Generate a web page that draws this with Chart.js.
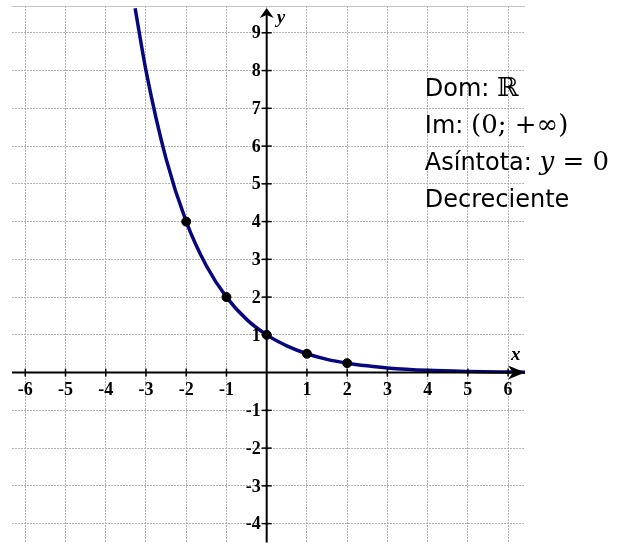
<!DOCTYPE html>
<html>
<head>
<meta charset="utf-8">
<script src="https://cdn.jsdelivr.net/npm/chart.js@4.4.1/dist/chart.umd.min.js"></script>
<style>
  html, body { margin: 0; padding: 0; background: #fff; }
  #wrap { width: 633px; height: 548px; }
</style>
</head>
<body>
<div id="wrap"><canvas id="graph"></canvas></div>
<script>
// y = (1/2)^x, sampled along the curve
const curveX = [-3.27, -3, -2.5, -2, -1.5, -1, -0.5, 0, 0.5, 1, 1.5, 2, 2.5, 3, 4, 5, 6, 6.42];
const curveY = [9.65, 8, 5.66, 4, 2.83, 2, 1.41, 1, 0.71, 0.5, 0.35, 0.25, 0.18, 0.125, 0.06, 0.03, 0.016, 0.012];

// marked points
const markX = [-2, -1, 0, 1, 2];
const markY = [4, 2, 1, 0.5, 0.25];

const xTicks = [-6, -5, -4, -3, -2, -1, 1, 2, 3, 4, 5, 6];
const yTicks = [-4, -3, -2, -1, 1, 2, 3, 4, 5, 6, 7, 8, 9];

const infoLines = [
    [['Dom: ', 'sans'], ['ℝ', 'serif']],
    [['Im: ', 'sans'], ['(0; +∞)', 'serif']],
    [['Asíntota: ', 'sans'], ['y', 'italic'], [' = 0', 'serif']],
    [['Decreciente', 'sans']]
];

const SANS = '"DejaVu Sans"';
const SERIF = '"DejaVu Serif"';

const axesPlugin = {
    id: 'axes',
    afterDatasetsDraw(chart) {
        const ctx = chart.ctx;
        const xs = chart.scales.x;
        const ys = chart.scales.y;
        const area = chart.chartArea;
        const x0 = xs.getPixelForValue(0);
        const y0 = ys.getPixelForValue(0);

        ctx.save();
        // top border
        ctx.strokeStyle = '#c4c4c4';
        ctx.lineWidth = 1;
        ctx.beginPath();
        ctx.moveTo(area.left, area.top + 0.5);
        ctx.lineTo(area.right, area.top + 0.5);
        ctx.stroke();

        // axis lines
        ctx.strokeStyle = '#000';
        ctx.fillStyle = '#000';
        ctx.lineWidth = 2;
        ctx.beginPath();
        ctx.moveTo(area.left, y0);
        ctx.lineTo(area.right - 8, y0);
        ctx.moveTo(x0, area.bottom);
        ctx.lineTo(x0, area.top + 8);
        ctx.stroke();

        // arrow heads
        ctx.beginPath();
        ctx.moveTo(area.right, y0);
        ctx.lineTo(area.right - 17, y0 - 7);
        ctx.lineTo(area.right - 12, y0);
        ctx.lineTo(area.right - 17, y0 + 7);
        ctx.closePath();
        ctx.fill();
        ctx.beginPath();
        ctx.moveTo(x0, area.top + 2);
        ctx.lineTo(x0 - 7, area.top + 12);
        ctx.lineTo(x0, area.top + 9);
        ctx.lineTo(x0 + 7, area.top + 12);
        ctx.closePath();
        ctx.fill();

        // tick marks and labels
        ctx.lineWidth = 1.5;
        ctx.font = 'bold 18px "Liberation Serif"';
        ctx.textAlign = 'center';
        ctx.textBaseline = 'middle';
        xTicks.forEach(v => {
            const px = xs.getPixelForValue(v);
            ctx.beginPath();
            ctx.moveTo(px, y0 - 4);
            ctx.lineTo(px, y0 + 4);
            ctx.stroke();
            ctx.fillText(String(v), px, y0 + 18);
        });
        ctx.textAlign = 'right';
        yTicks.forEach(v => {
            const py = ys.getPixelForValue(v);
            ctx.beginPath();
            ctx.moveTo(x0 - 5, py);
            ctx.lineTo(x0 + 5, py);
            ctx.stroke();
            ctx.fillText(String(v), x0 - 6, py + 1);
        });

        // axis names
        ctx.font = 'italic bold 19px "Liberation Serif"';
        ctx.textAlign = 'left';
        ctx.fillText('y', x0 + 10, area.top + 12);
        ctx.fillText('x', area.right - 14, y0 - 18);

        // info text
        ctx.textBaseline = 'alphabetic';
        const left = xs.getPixelForValue(3.93);
        infoLines.forEach((line, i) => {
            let cx = left;
            const base = 96 + i * 37;
            line.forEach(([txt, kind]) => {
                if (kind === 'sans') ctx.font = '24px ' + SANS;
                else if (kind === 'italic') ctx.font = 'italic 26px ' + SERIF;
                else ctx.font = '26px ' + SERIF;
                ctx.fillText(txt, cx, base);
                cx += ctx.measureText(txt).width;
            });
        });
        ctx.restore();
    }
};

const ctx = document.getElementById('graph').getContext('2d');

new Chart(ctx, {
    type: 'scatter',
    data: {
        datasets: [{
            type: 'line',
            data: curveX.map((x, i) => ({ x: x, y: curveY[i] })),
            borderColor: '#08087e',
            borderWidth: 3.5,
            pointRadius: 0,
            fill: false,
            cubicInterpolationMode: 'monotone',
            order: 2
        }, {
            data: markX.map((x, i) => ({ x: x, y: markY[i] })),
            backgroundColor: '#000',
            borderColor: '#000',
            pointRadius: 4.5,
            order: 1
        }]
    },
    options: {
        responsive: true,
        maintainAspectRatio: false,
        animation: false,
        events: [],
        layout: { padding: { left: 12, right: 108, top: 6, bottom: 0 } },
        plugins: {
            legend: { display: false },
            tooltip: { enabled: false }
        },
        scales: {
            x: {
                type: 'linear',
                min: -6.33,
                max: 6.42,
                afterBuildTicks: axis => { axis.ticks = [-6, -5, -4, -3, -2, -1, 0, 1, 2, 3, 4, 5, 6].map(v => ({ value: v })); },
                ticks: { display: false },
                border: { display: false, dash: [2, 1] },
                grid: { color: '#b2b2b2', lineWidth: 1, drawTicks: false }
            },
            y: {
                type: 'linear',
                min: -4.5,
                max: 9.71,
                afterBuildTicks: axis => { axis.ticks = [-4, -3, -2, -1, 0, 1, 2, 3, 4, 5, 6, 7, 8, 9].map(v => ({ value: v })); },
                ticks: { display: false },
                border: { display: false, dash: [2, 1] },
                grid: { color: '#b2b2b2', lineWidth: 1, drawTicks: false }
            }
        }
    },
    plugins: [axesPlugin]
});
</script>
</body>
</html>
